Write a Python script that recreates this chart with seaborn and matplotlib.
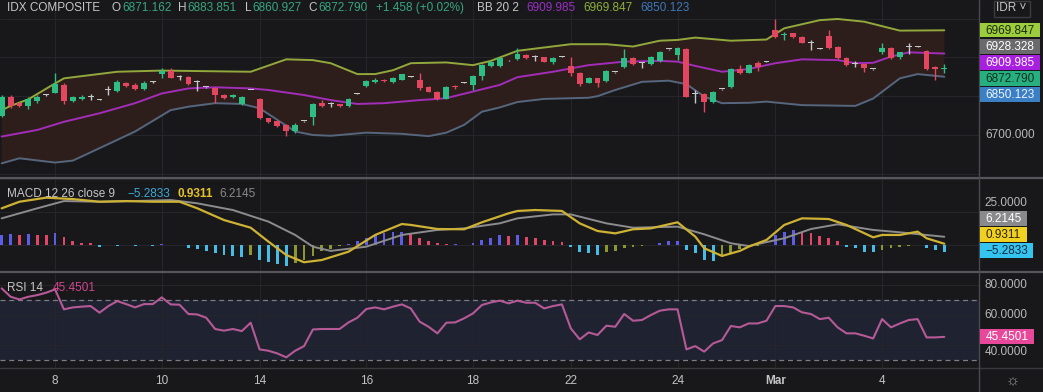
import numpy as np
import matplotlib
matplotlib.use("Agg")
import matplotlib.pyplot as plt
from matplotlib.patches import Rectangle
from matplotlib.lines import Line2D
import seaborn as sns

# hourly candles, IDX composite
opens = [6749, 6797, 6782, 6775, 6788, 6803, 6809, 6829, 6788, 6793,
         6799, 6791, 6817, 6814, 6833, 6829, 6818, 6837, 6857, 6865,
         6849, 6850, 6836, 6823, 6820, 6803, 6799, 6780, 6816, 6793,
         6743, 6736, 6726, 6710, 6735, 6747, 6782, 6779, 6779, 6775,
         6806, 6825, 6837, 6843, 6837, 6843, 6850, 6842, 6823, 6812,
         6794, 6826, 6835, 6829, 6852, 6878, 6878, 6892, 6896, 6906,
         6900, 6900, 6887, 6902, 6879, 6861, 6835, 6846, 6839, 6862,
         6876, 6898, 6885, 6882, 6891, 6921, 6906, 6922, 6805, 6805,
         6784, 6818, 6823, 6870, 6861, 6886, 6889, 6971, 6957, 6962,
         6952, 6938, 6922, 6955, 6928, 6899, 6884, 6882, 6869, 6915,
         6925, 6902, 6927, 6928, 6916, 6874, 6871.162]
highs = [6803, 6803, 6786, 6797, 6803, 6806, 6861, 6833, 6800, 6803,
         6806, 6793, 6827, 6842, 6837, 6833, 6838, 6838, 6872, 6873,
         6855, 6852, 6842, 6824, 6823, 6806, 6806, 6801, 6817, 6795,
         6745, 6738, 6728, 6730, 6736, 6782, 6790, 6786, 6781, 6796,
         6807, 6841, 6846, 6845, 6850, 6858, 6851, 6861, 6825, 6814,
         6825, 6829, 6836, 6855, 6883, 6891, 6901, 6893, 6925, 6908,
         6906, 6902, 6901, 6903, 6902, 6863, 6850, 6848, 6867, 6863,
         6921, 6900, 6889, 6904, 6917, 6922, 6928, 6924, 6816, 6807,
         6814, 6819, 6872, 6880, 6882, 6891, 6890, 6999, 6966, 6964,
         6954, 6945, 6923, 6971, 6930, 6901, 6891, 6884, 6870, 6938,
         6927, 6915, 6936, 6929, 6918, 6878, 6883.851]
lows = [6747, 6769, 6771, 6766, 6783, 6801, 6807, 6780, 6786, 6790,
        6790, 6790, 6803, 6812, 6823, 6815, 6816, 6835, 6846, 6846,
        6842, 6829, 6814, 6822, 6782, 6793, 6796, 6778, 6815, 6740,
        6730, 6720, 6697, 6706, 6733, 6726, 6773, 6771, 6773, 6773,
        6805, 6823, 6835, 6837, 6835, 6841, 6849, 6816, 6810, 6790,
        6792, 6818, 6834, 6816, 6843, 6876, 6876, 6891, 6894, 6896,
        6891, 6887, 6884, 6901, 6852, 6826, 6833, 6823, 6837, 6861,
        6872, 6880, 6872, 6880, 6889, 6920, 6893, 6797, 6783, 6758,
        6782, 6817, 6821, 6857, 6859, 6866, 6888, 6950, 6945, 6951,
        6936, 6919, 6921, 6922, 6896, 6878, 6876, 6863, 6868, 6910,
        6897, 6895, 6910, 6927, 6868, 6843, 6860.927]
closes = [6799, 6775, 6775, 6793, 6799, 6803, 6831, 6788, 6797, 6799,
          6799, 6791, 6817, 6837, 6826, 6818, 6835, 6837, 6865, 6848,
          6849, 6831, 6836, 6823, 6803, 6796, 6803, 6799, 6816, 6743,
          6733, 6723, 6710, 6727, 6735, 6779, 6775, 6779, 6775, 6794,
          6806, 6839, 6843, 6839, 6848, 6856, 6850, 6820, 6812, 6794,
          6823, 6823, 6835, 6852, 6880, 6889, 6899, 6892, 6910, 6898,
          6900, 6889, 6899, 6902, 6859, 6831, 6848, 6833, 6865, 6862,
          6898, 6882, 6885, 6902, 6915, 6921, 6923, 6799, 6805, 6786,
          6812, 6818, 6870, 6861, 6880, 6876, 6889, 6952, 6959, 6953,
          6938, 6938, 6922, 6925, 6898, 6880, 6884, 6872, 6869, 6925,
          6899, 6913, 6927, 6928, 6870, 6869, 6872.790]

# Bollinger bands (20, 2): vertices as (candle index, value)
bb_up_x = [0, 1, 3, 6, 7, 13, 18, 28, 32, 35, 37, 40, 42, 44, 46, 50, 53, 55, 58,
           64, 68, 71, 74, 76, 78, 82, 86, 88, 92, 94, 97, 101, 106]
bb_up = [6764, 6775, 6792, 6833, 6846, 6863, 6866, 6863, 6895, 6893, 6885, 6857, 6857,
         6867, 6885, 6887, 6880, 6891, 6917, 6934, 6934, 6928, 6943, 6945, 6951, 6943,
         6946, 6975, 6996, 6999, 6992, 6969, 6969.847]
bb_mid_x = [0, 4, 7, 11, 15, 18, 21, 24, 28, 30, 34, 37, 40, 43, 47, 49, 50, 53, 56, 58,
            62, 66, 70, 74, 76, 78, 81, 84, 87, 90, 94, 96, 98, 100, 102, 106]
bb_mid = [6696, 6713, 6734, 6756, 6782, 6807, 6820, 6823, 6820, 6816, 6803, 6790, 6780,
          6782, 6790, 6793, 6795, 6812, 6829, 6849, 6863, 6880, 6889, 6891, 6889, 6878,
          6863, 6870, 6885, 6895, 6893, 6885, 6886, 6902, 6913, 6909.985]
bb_lo_x = [0, 2, 6, 8, 11, 15, 19, 21, 24, 27, 29, 31, 33, 35, 37, 41, 45, 48, 50, 52,
           54, 56, 58, 61, 66, 67, 69, 72, 75, 77, 79, 81, 84, 86, 90, 96, 98, 101, 103, 106]
bb_lo = [6627, 6640, 6629, 6634, 6666, 6709, 6764, 6773, 6782, 6780, 6769, 6739, 6709,
         6700, 6698, 6706, 6703, 6697, 6706, 6726, 6760, 6771, 6785, 6793, 6796, 6800,
         6816, 6837, 6840, 6831, 6799, 6782, 6783, 6786, 6777, 6775, 6794, 6846, 6857,
         6850.123]

# MACD 12 26 9
macd_x = [0, 2, 5, 8, 11, 14, 17, 20, 22, 25, 28, 30, 32, 34, 36, 39, 42, 45, 46, 49,
          52, 54, 57, 58, 60, 63, 65, 67, 69, 71, 73, 76, 78, 79, 81, 83, 84, 86, 88,
          90, 93, 95, 98, 99, 101, 103, 104, 106]
macd = [27.8, 32.8, 35.9, 34.8, 32.8, 33.3, 32.8, 32.8, 27.8, 18.9, 13.1, 2.5, -7.6,
        -13.1, -11.4, -5.1, 7.6, 15.9, 15.2, 12.1, 11.9, 17.2, 24.0, 25.8, 26.5, 25.8,
        16.4, 10.6, 8.8, 11.9, 12.6, 17.2, 6.3, -2.5, -8.3, -4.5, -1.3, 3.8, 15.2, 20.2,
        19.7, 15.2, 5.8, 7.6, 7.6, 10.1, 5.1, 0.9311]
signal_x = [0, 4, 7, 11, 15, 19, 22, 26, 30, 33, 35, 37, 41, 45, 49, 52, 56, 58, 62, 64,
            68, 71, 76, 79, 82, 84, 88, 91, 94, 98, 101, 106]
signal = [20.2, 27.8, 33.3, 32.8, 33.3, 34.1, 31.6, 26.5, 17.7, 7.6, -1.3, -4.5, -1.3,
          7.6, 11.4, 12.6, 16.4, 20.2, 23.2, 23.2, 16.4, 13.1, 13.9, 8.1, 1.3, -0.8, 5.1,
          12.1, 15.7, 11.4, 9.6, 6.2145]
hist = [7.4, 8.0, 7.8, 8.2, 7.9, 7.6, 8.8, 6.3, 3.0, 1.8, 1.3,
        -1.3, -0.3, -0.4, -0.3, -0.5, -0.3, -0.5, 0.5, 0.3, -0.3,
        -2.0, -3.0, -4.5, -6.3, -7.6, -8.3, -8.8, -7.6, -11.4, -13.1,
        -14.6, -15.7, -13.9, -11.4, -8.1, -4.5, -3.0, -1.0, 1.0, 3.0,
        5.6, 7.6, 8.8, 9.6, 10.1, 8.0, 5.0, 3.0, 1.3, 0.5,
        0.6, 0.3, 1.8, 3.8, 5.6, 7.3, 6.8, 7.6, 6.3, 5.0,
        3.8, 3.0, 2.5, -1.3, -5.0, -6.3, -7.6, -5.6, -4.5, -2.0,
        -1.9, -0.8, -0.3, 1.3, 3.0, 3.3, -3.8, -6.3, -11.4, -12.1,
        -8.8, -6.3, -3.0, -1.5, -0.5, 0.3, 7.6, 10.1, 11.4, 10.1,
        8.8, 7.0, 5.6, 3.0, -1.3, -2.0, -5.0, -5.6, -3.8, -2.0,
        -1.3, -0.5, -0.3, -2.0, -3.8, -5.2833]

# RSI 14
rsi = [77.8, 72.2, 70.4, 72.2, 73.3, 74.9, 77.1, 63.8, 65.1, 65.6,
       66.0, 61.6, 66.0, 69.3, 67.3, 65.1, 67.3, 67.3, 71.8, 67.1,
       66.9, 60.7, 60.4, 58.2, 50.7, 49.6, 50.7, 49.3, 54.9, 37.1,
       36.2, 34.4, 31.8, 36.2, 39.3, 50.4, 50.7, 50.7, 50.7, 55.1,
       58.2, 64.0, 65.1, 63.8, 65.6, 67.1, 64.4, 55.6, 52.2, 47.8,
       54.9, 55.1, 57.8, 61.1, 66.7, 68.4, 69.6, 67.8, 69.6, 68.2,
       68.2, 64.4, 66.0, 67.1, 51.1, 43.8, 48.4, 46.7, 52.9, 52.2,
       60.7, 56.2, 56.7, 60.0, 62.9, 63.8, 63.8, 37.1, 39.3, 35.6,
       41.1, 43.3, 52.7, 51.8, 54.4, 54.4, 56.2, 66.0, 66.0, 65.1,
       61.8, 60.7, 57.3, 58.2, 51.8, 47.8, 47.8, 46.2, 44.4, 57.3,
       51.8, 54.4, 56.7, 57.3, 45.1, 45.1, 45.4501]

date_ticks = [6, 18, 29, 41, 53, 64, 76, 87, 99]
date_labels = ["8", "10", "14", "16", "18", "22", "24", "Mar", "4"]

# colours
BG = "#18181b"
GRID = "#26262a"
SEP = "#56565b"
UP = "#2ebd85"
DOWN = "#e2475f"
DOJI = "#c4c7cc"
TXT = "#c6c6c6"

sns.set_theme(style="dark", rc={"axes.facecolor": BG, "figure.facecolor": BG})
plt.rcParams["font.family"] = ["Liberation Sans", "DejaVu Sans"]

W, H = 1043, 392
fig = plt.figure(figsize=(W / 100, H / 100), dpi=100)


def fx(px):
    return px / W


def fy(py):
    return 1 - py / H


ax_p = fig.add_axes([0, fy(178), fx(979), 178 / H])
ax_m = fig.add_axes([0, fy(272), fx(979), 94 / H], sharex=ax_p)
ax_r = fig.add_axes([0, fy(368), fx(979), 96 / H], sharex=ax_p)

for ax in (ax_p, ax_m, ax_r):
    ax.set_facecolor(BG)
    for s in ax.spines.values():
        s.set_visible(False)
    ax.tick_params(length=0, labelleft=False, labelright=False, labelbottom=False)
    ax.grid(True, color=GRID, lw=0.8)
    ax.set_axisbelow(True)

idx = np.arange(len(closes))
o = np.array(opens)
c = np.array(closes)

# --- price pane ---
band_x = np.r_[bb_up_x, bb_lo_x[::-1]]
band_y = np.r_[bb_up, bb_lo[::-1]]
ax_p.fill(band_x, band_y, color="#2e1e1b", lw=0, zorder=1)
sns.lineplot(x=bb_up_x, y=bb_up, ax=ax_p, color="#92a83c", lw=1.4, sort=False, zorder=2)
sns.lineplot(x=bb_mid_x, y=bb_mid, ax=ax_p, color="#a22db8", lw=1.4, sort=False, zorder=2)
sns.lineplot(x=bb_lo_x, y=bb_lo, ax=ax_p, color="#56667d", lw=1.4, sort=False, zorder=2)

cols = np.where(c > o, UP, np.where(c < o, DOWN, DOJI))
ax_p.vlines(idx, lows, highs, colors=cols, lw=1, zorder=3)
body = np.maximum(np.abs(c - o), 2.4)
ax_p.bar(idx, body, bottom=np.minimum(o, c), width=0.66, color=cols, lw=0, zorder=4)
ax_p.set_ylim(6589.2, 7047.9)
ax_p.set_yticks([6600, 6700, 6800, 6900, 7000])

# --- MACD pane ---
h = np.array(hist)
prev = np.r_[h[0], h[:-1]]
hcols = np.where(h >= 0, np.where(h >= prev, "#5d5ce6", "#de4767"),
                 np.where(h < prev, "#45bde6", "#8b9830"))
ax_m.bar(idx, h, width=0.32, color=hcols, lw=0, zorder=2)
sns.lineplot(x=signal_x, y=signal, ax=ax_m, color="#8c8c8f", lw=1.4, sort=False, zorder=3)
sns.lineplot(x=macd_x, y=macd, ax=ax_m, color="#cdb234", lw=1.6, sort=False, zorder=4)
ax_m.set_ylim(-20.5, 50.8)
ax_m.set_yticks([0, 25, 50])

# --- RSI pane ---
ax_r.axhspan(30, 70, color="#1e2231", lw=0, zorder=0.5)
for lvl in (30, 70):
    ax_r.axhline(lvl, color="#7a7d85", lw=0.9, ls=(0, (4, 3)), zorder=1)
sns.lineplot(x=idx, y=rsi, ax=ax_r, color="#b65a97", lw=1.5, sort=False, zorder=3)
ax_r.set_ylim(24.7, 88.7)
ax_r.set_yticks([40, 60, 80])

ax_r.set_xlim(-0.19, 109.9)
ax_r.set_xticks(date_ticks)
ax_r.set_xticklabels(date_labels, fontsize=8.5, color="#c3c3c3")
ax_r.tick_params(axis="x", labelbottom=True, pad=5)
for lab in ax_r.get_xticklabels():
    if lab.get_text() == "Mar":
        lab.set_fontweight("bold")
for ax in (ax_p, ax_m, ax_r):
    ax.set_xlabel("")
    ax.set_ylabel("")

# --- separators ---
for yy in (178, 272):
    fig.add_artist(Line2D([0, 1], [fy(yy), fy(yy)], color=SEP, lw=1.6, transform=fig.transFigure))
fig.add_artist(Line2D([0, 1], [fy(368), fy(368)], color="#3a3a3e", lw=1, transform=fig.transFigure))
fig.add_artist(Line2D([fx(979), fx(979)], [0, 1], color="#4a4a4e", lw=1, transform=fig.transFigure))


def label(px, py, s, color, size=8.5, weight="normal", ha="left"):
    fig.text(fx(px), fy(py), s, color=color, fontsize=size, fontweight=weight,
             ha=ha, va="center", zorder=9)


def badge(y0, y1, s, bg, fg, x0=980, x1=1040):
    fig.add_artist(Rectangle((fx(x0), fy(y1)), fx(x1) - fx(x0), (y1 - y0) / H,
                             transform=fig.transFigure, facecolor=bg, edgecolor="none", zorder=7))
    fig.text(fx((x0 + x1) / 2), fy((y0 + y1) / 2 + 0.5), s, color=fg, fontsize=8.5,
             ha="center", va="center", zorder=8)


# legends / headers
GV = "#37a67d"
for px, s, col in [(7, "IDX COMPOSITE", TXT), (112, "O", TXT), (122, "6871.162", GV),
                   (178, "H", TXT), (187, "6883.851", GV), (245, "L", TXT),
                   (252, "6860.927", GV), (308, "C", TXT), (318, "6872.790", GV),
                   (376, "+1.458 (+0.02%)", GV), (477, "BB 20 2", TXT),
                   (526, "6909.985", "#9a2fc2"), (583, "6969.847", "#8db13a"),
                   (640, "6850.123", "#3d78b6")]:
    label(px, 8, s, col)

label(7, 194, "MACD 12 26 close 9", TXT)
label(127, 194, "\u22125.2833", "#3aaad6")
label(177, 194, "0.9311", "#e5c22a", weight="bold")
label(219, 194, "6.2145", "#8a8a8a")

label(7, 288, "RSI 14", TXT)
label(53, 288, "45.4501", "#d0468e")

# price scale
label(1010, 135, "6700.000", "#b8b8b8", ha="center")
badge(23, 37, "6969.847", "#9ccd3c", "#1d2a0c")
badge(39, 54, "6928.328", "#6a6a6d", "#ffffff")
badge(55, 70, "6909.985", "#a81fe0", "#ffffff")
badge(71, 86, "6872.790", "#27b07f", "#0f2f20")
badge(87, 102, "6850.123", "#3b7fc4", "#eef4ff")

label(1006, 203, "25.0000", "#b8b8b8", ha="center")
badge(211, 226, "6.2145", "#8a8a8c", "#ffffff", x1=1027)
badge(227, 242, "0.9311", "#f0d020", "#2a2200", x1=1027)
badge(243, 258, "\u22125.2833", "#35c3f0", "#0b2a3d", x1=1033)

label(1006, 285, "80.0000", "#b8b8b8", ha="center")
label(1006, 315, "60.0000", "#b8b8b8", ha="center")
label(1006, 352, "40.0000", "#b8b8b8", ha="center")
badge(329, 344, "45.4501", "#e8489a", "#ffffff", x1=1034)

# currency box and settings icon
fig.add_artist(Rectangle((fx(994), fy(17)), fx(36), 16 / H, transform=fig.transFigure,
                         facecolor=BG, edgecolor="#3c3c40", lw=1, zorder=7))
label(1011, 8, "IDR \u02c5", "#c6c6c6", size=8.5, ha="center")
label(1013, 381, "\u263c", "#9a9a9a", size=11, ha="center")

fig.savefig("out.png", dpi=100, facecolor=BG)
